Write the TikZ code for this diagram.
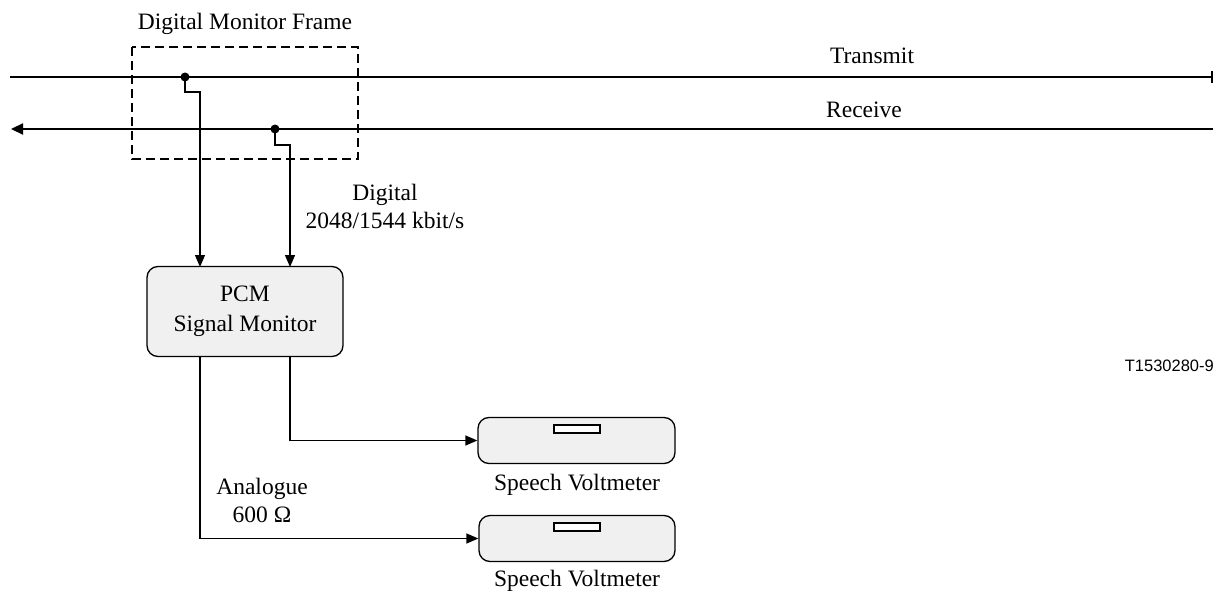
\documentclass[tikz,border=0pt]{standalone}
\usepackage{fontspec}
\setmainfont{Liberation Serif}
\newfontfamily\labelsans{Liberation Sans}
\usetikzlibrary{arrows.meta}
\begin{document}
\begin{tikzpicture}[x=1pt,y=-1pt,
  every node/.style={font=\fontsize{23.5}{28}\selectfont, inner sep=0pt},
  mainline/.style={line width=2.2pt},
  feed/.style={line width=1.3pt},
  tri/.style={-{Triangle[length=12pt,width=10pt]}},
  box/.style={draw, line width=1.3pt, rounded corners=11pt, fill=black!6},
  dotst/.style={circle, fill=black, minimum size=9pt, inner sep=0pt},
  frame/.style={draw, dashed, line width=1.8pt, dash pattern=on 9pt off 5pt}
]
\useasboundingbox (0,0) rectangle (1215,594);

% frame
\draw[frame] (132,47) rectangle (358,159);
\node (dmf) at (245,24) {Digital Monitor Frame};

% lines
\coordinate (tl) at (10,77);
\coordinate (tr) at (1213,77);
\coordinate (rl) at (11,129);
\coordinate (rr) at (1213,129);
\draw[mainline, -{Bar[width=12pt,line width=2.2pt]}] (tl) -- (tr);
\draw[mainline, -{Triangle[length=12pt,width=11pt]}] (rr) -- (rl);
\node (tx) at (872,56) {Transmit};
\node (rx) at (864,110) {Receive};

% taps
\node[dotst] (d1) at (185,77) {};
\node[dotst] (d2) at (275,129) {};

% PCM box
\node[box, minimum width=196pt, minimum height=90pt, align=center] (pcm) at (245,311.5)
  {PCM\\[2pt]Signal Monitor};

\draw[feed, tri] (d1.center) -- (185,92) -- (200,92) -- (200,267);
\draw[feed, tri] (d2.center) -- (275,145) -- (290,145) -- (290,267);

\node[align=center] (dig) at (385,206) {Digital\\2048/1544 kbit/s};

% voltmeters
\node[box, minimum width=197pt, minimum height=46pt] (vm1) at (576.5,440.5) {};
\draw[line width=1.3pt, fill=white] (554,425) rectangle (600,433);
\node (vm1l) at (577,485) {Speech Voltmeter};

\node[box, minimum width=196pt, minimum height=46pt] (vm2) at (577,538.5) {};
\draw[line width=1.3pt, fill=white] (554,523) rectangle (600,531);
\node (vm2l) at (577,581) {Speech Voltmeter};

\draw[feed, tri] (290,356.5) |- (vm1.west);
\draw[feed, tri] (200,356.5) |- (vm2.west);

\node[align=center] (ana) at (262,500) {Analogue\\600 Ω};

\node[font=\labelsans\fontsize{16.5}{19}\selectfont, anchor=east] (tag) at (1214,366) {T1530280-9};
\end{tikzpicture}
\end{document}
